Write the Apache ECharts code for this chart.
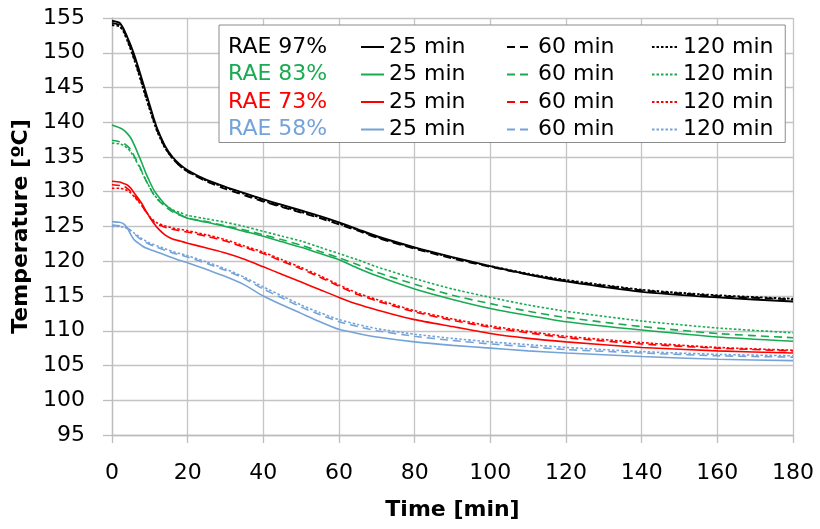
<!DOCTYPE html>
<html>
<head>
<meta charset="utf-8">
<script src="https://cdn.jsdelivr.net/npm/echarts@6/dist/echarts.min.js"></script>
<style>html,body{margin:0;padding:0;background:#fff}#c{width:820px;height:529px}</style>
</head>
<body>
<div id="c"></div>
<script>
// ---- data ----
const time = [0,2,3,4,5,6,7,8,9,10,11,12,14,16,18,20,25,30,35,40,45,50,55,60,65,70,80,90,100,110,120,140,160,180];

const rae97_25  = [154.6,154.3,153.5,152.3,151.0,149.5,147.8,146.0,144.2,142.4,140.6,139.0,136.6,135.0,133.9,133.1,131.7,130.7,129.8,128.9,128.1,127.3,126.5,125.6,124.6,123.6,122.0,120.6,119.3,118.1,117.1,115.6,114.8,114.2];
const rae97_60  = [154.3,154.0,153.3,152.0,150.6,149.0,147.3,145.5,143.7,142.0,140.3,138.8,136.4,134.8,133.7,132.9,131.5,130.4,129.5,128.6,127.8,127.0,126.2,125.3,124.4,123.4,121.8,120.4,119.2,118.1,117.2,115.8,115.0,114.5];
const rae97_120 = [154.0,153.8,153.1,151.8,150.4,148.8,147.1,145.3,143.5,141.8,140.1,138.6,136.3,134.8,133.7,132.9,131.6,130.6,129.7,128.7,127.9,127.1,126.3,125.4,124.5,123.5,121.9,120.5,119.3,118.2,117.3,115.9,115.1,114.6];

const rae83_25  = [139.6,139.2,138.9,138.4,137.7,136.6,135.3,134.0,132.6,131.4,130.3,129.5,128.2,127.3,126.7,126.2,125.6,125.0,124.3,123.6,122.8,122.0,121.1,120.2,119.0,117.9,116.0,114.5,113.2,112.2,111.3,110.1,109.1,108.5];
const rae83_60  = [137.4,137.2,137.0,136.6,136.0,135.0,134.0,132.8,131.6,130.6,129.6,128.9,127.9,127.1,126.6,126.2,125.7,125.1,124.5,123.8,123.1,122.3,121.4,120.5,119.5,118.4,116.7,115.1,113.9,112.8,111.9,110.6,109.6,109.0];
const rae83_120 = [137.0,136.9,136.7,136.3,135.7,134.8,133.8,132.7,131.6,130.6,129.7,129.0,128.1,127.4,127.0,126.6,126.1,125.6,125.0,124.3,123.6,122.9,122.0,121.1,120.2,119.2,117.5,116.0,114.8,113.7,112.8,111.4,110.4,109.7];

const rae73_25  = [131.5,131.4,131.2,131.0,130.5,129.7,129.0,128.2,127.2,126.3,125.5,124.8,123.8,123.2,122.9,122.6,121.9,121.2,120.3,119.2,118.1,117.0,115.9,114.8,113.8,113.0,111.6,110.6,109.6,108.9,108.4,107.6,107.1,106.8];
const rae73_60  = [131.0,130.9,130.8,130.5,130.0,129.4,128.7,127.9,127.1,126.3,125.7,125.3,124.9,124.6,124.4,124.2,123.6,122.9,122.0,121.1,120.0,118.9,117.7,116.4,115.2,114.3,112.7,111.5,110.5,109.7,109.0,108.1,107.5,107.1];
const rae73_120 = [130.5,130.5,130.4,130.2,129.8,129.2,128.6,127.9,127.1,126.4,125.9,125.5,125.1,124.8,124.6,124.4,123.8,123.1,122.2,121.3,120.2,119.1,117.9,116.6,115.4,114.5,112.9,111.7,110.7,109.9,109.2,108.3,107.6,107.2];

const rae58_25  = [125.7,125.6,125.4,124.8,123.8,123.0,122.6,122.2,121.9,121.7,121.5,121.3,120.9,120.5,120.1,119.8,118.8,117.8,116.6,115.0,113.7,112.5,111.3,110.2,109.6,109.1,108.4,107.9,107.5,107.1,106.8,106.3,105.9,105.7];
const rae58_60  = [125.2,125.1,125.0,124.8,124.4,123.9,123.4,123.0,122.7,122.4,122.2,122.0,121.6,121.2,120.9,120.6,119.7,118.7,117.5,116.0,114.7,113.4,112.3,111.3,110.6,110.0,109.2,108.6,108.1,107.7,107.3,106.8,106.4,106.2];
const rae58_120 = [125.0,125.0,124.9,124.7,124.4,124.0,123.6,123.2,122.9,122.6,122.4,122.2,121.8,121.4,121.1,120.8,119.9,118.9,117.7,116.3,115.0,113.7,112.6,111.6,110.9,110.3,109.5,108.9,108.4,108.0,107.6,107.0,106.6,106.4];

const groups = ['RAE 97%','RAE 83%','RAE 73%','RAE 58%'];
const durations = ['25 min','60 min','120 min'];
const values = [
  [rae97_25, rae97_60, rae97_120],
  [rae83_25, rae83_60, rae83_120],
  [rae73_25, rae73_60, rae73_120],
  [rae58_25, rae58_60, rae58_120]
];
const yTicks = {min:95, max:155, interval:5};
const xTicks = {min:0, max:180, interval:20};

// ---- styles ----
const colors = ['#000000','#1aab52','#ff0000','#74a3d9'];
const widths = [1.9, 1.6, 1.6, 1.6];
const dashes = ['solid',[8,5],[2.5,2]];
const FONT = 'DejaVu Sans';

const series = [];
groups.forEach((g,gi)=>{
  series.push({name:g, type:'line', data:[], symbol:'none', lineStyle:{color:colors[gi], width:0}, itemStyle:{color:colors[gi]}});
});
groups.forEach((g,gi)=>{
  durations.forEach((d,di)=>{
    series.push({
      name: g + ' ' + d,
      type:'line',
      data: time.map((t,i)=>[t, values[gi][di][i]]),
      symbol:'none',
      smooth:0.2,
      z: 10 - gi,
      lineStyle:{color:colors[gi], width:widths[gi], type:dashes[di]},
      itemStyle:{color:colors[gi]}
    });
  });
});

const rowGap = 5.5;
const legends = [
  {
    orient:'vertical', left:219, top:25, itemWidth:1, itemHeight:1, itemGap:rowGap,
    padding:[11,458,2,3], backgroundColor:'#fff', borderColor:'#8c8c8c', borderWidth:1,
    selectedMode:false,
    textStyle:{fontFamily:FONT, fontSize:22, color:'#000'},
    data: groups.map((g,gi)=>({name:g, icon:'none', textStyle:{color:colors[gi]}}))
  }
];
const colLeft = [360, 506, 651];
const colIconW = [23, 26, 26];
durations.forEach((d,di)=>{
  legends.push({
    orient:'vertical', left:colLeft[di], top:36, itemWidth:colIconW[di], itemHeight:14, itemGap:rowGap,
    padding:0, selectedMode:false,
    itemStyle:{opacity:0},
    textStyle:{fontFamily:FONT, fontSize:22, color:'#000'},
    formatter: ()=>d,
    data: groups.map(g=>g + ' ' + d)
  });
});

const chart = echarts.init(document.getElementById('c'), null, {renderer:'canvas'});
chart.setOption({
  animation:false,
  backgroundColor:'#fff',
  grid:{left:112, right:27, top:18, bottom:94, containLabel:false},
  legend: legends,
  xAxis:{
    type:'value', min:xTicks.min, max:xTicks.max, interval:xTicks.interval,
    name:'Time [min]', nameLocation:'middle', nameGap:64,
    nameTextStyle:{fontFamily:FONT, fontSize:22, fontWeight:'bold', color:'#000'},
    axisLine:{show:true, lineStyle:{color:'#bdbdbd', width:1.3}},
    axisTick:{show:true, length:8, lineStyle:{color:'#bdbdbd', width:1.3}},
    axisLabel:{fontFamily:FONT, fontSize:22, color:'#000', margin:27},
    splitLine:{show:true, lineStyle:{color:'#c4c4c4', width:1.3}}
  },
  yAxis:{
    type:'value', min:yTicks.min, max:yTicks.max, interval:yTicks.interval,
    name:'Temperature [ºC]', nameLocation:'middle', nameGap:76,
    nameTextStyle:{fontFamily:FONT, fontSize:22, fontWeight:'bold', color:'#000'},
    axisLine:{show:true, lineStyle:{color:'#bdbdbd', width:1.3}},
    axisTick:{show:true, length:9, lineStyle:{color:'#bdbdbd', width:1.3}},
    axisLabel:{fontFamily:FONT, fontSize:22, color:'#000', margin:27},
    splitLine:{show:true, lineStyle:{color:'#c4c4c4', width:1.3}}
  },
  series: series
});
</script>
</body>
</html>
